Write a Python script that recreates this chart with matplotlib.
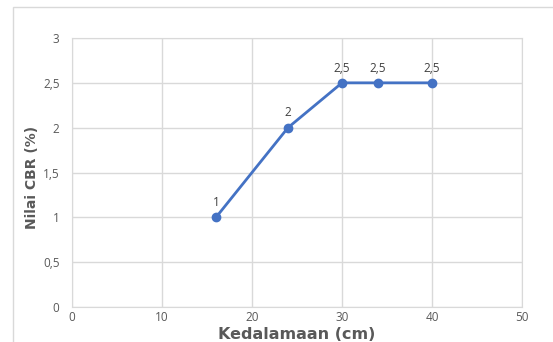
import matplotlib
matplotlib.use("Agg")
import matplotlib.pyplot as plt
from matplotlib.patches import Rectangle

depth = [16, 24, 30, 34, 40]
cbr = [1, 2, 2.5, 2.5, 2.5]
labels = ["1", "2", "2,5", "2,5", "2,5"]
xticks = [0, 10, 20, 30, 40, 50]
yticks = [0, 0.5, 1, 1.5, 2, 2.5, 3]
yticklabels = ["0", "0,5", "1", "1,5", "2", "2,5", "3"]

plt.rcParams['font.family'] = ['Open Sans', 'DejaVu Sans']
fig = plt.figure(figsize=(5.53, 3.42), dpi=100)
fig.patches.append(Rectangle((13/553, -0.1), 1.2, 1 - 7/342 + 0.1, transform=fig.transFigure,
                             fill=False, edgecolor='#d9d9d9', linewidth=1))
ax = fig.add_axes([72/553, 1 - 307/342, 450/553, 269/342])
line_color = '#4472c4'
ax.plot(depth, cbr, color=line_color, linewidth=2, marker='o', markersize=6, zorder=3)
for x, y, t in zip(depth, cbr, labels):
    ax.annotate(t, (x, y), xytext=(0, 6), textcoords='offset points', ha='center', va='bottom',
                fontsize=8.5, color='#404040')
ax.set_xlim(0, 50)
ax.set_ylim(0, 3)
ax.set_xticks(xticks)
ax.set_xticklabels([str(v) for v in xticks])
ax.set_yticks(yticks)
ax.set_yticklabels(yticklabels)
ax.tick_params(length=0, labelsize=8.5, labelcolor='#595959')
ax.tick_params(axis='x', pad=3)
ax.tick_params(axis='y', pad=9)
ax.grid(True, color='#d9d9d9', linewidth=1)
for s in ax.spines.values():
    s.set_color('#d9d9d9')
ax.set_axisbelow(True)
ax.set_xlabel("Kedalamaan (cm)", fontsize=11.5, fontweight='bold', color='#595959', va='center',
              family=['DejaVu Sans'])
ax.xaxis.set_label_coords(225/450, -27.5/269)
ax.set_ylabel("Nilai CBR (%)", fontsize=10, fontweight='bold', color='#595959',
              family=['DejaVu Sans'])
ax.yaxis.set_label_coords(-33/450, 0.48)
fig.savefig("out.png", dpi=100)
